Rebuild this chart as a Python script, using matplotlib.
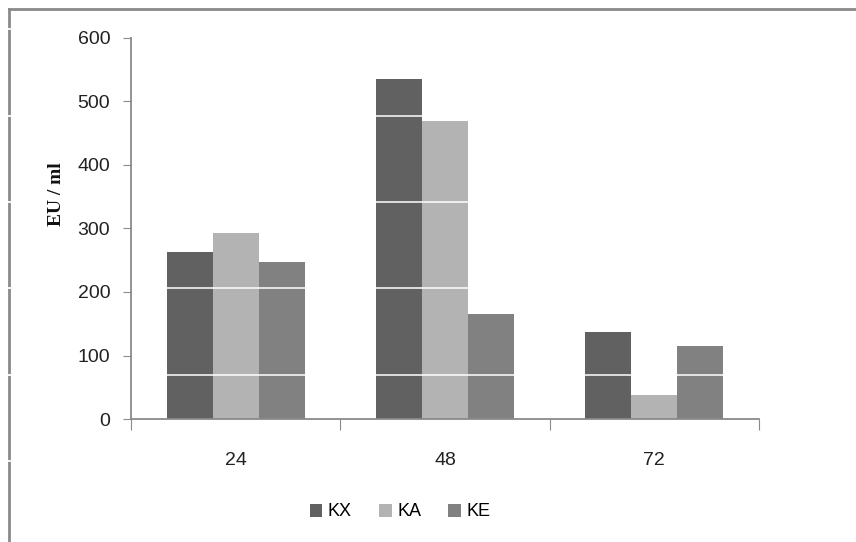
import matplotlib.pyplot as plt
from matplotlib.lines import Line2D
from matplotlib.patches import Patch

hours = ['24', '48', '72']
kx = [263, 536, 137]
ka = [293, 469, 38]
ke = [247, 165, 115]
series = ['KX', 'KA', 'KE']
colors = ['#616161', '#b3b3b3', '#808180']

fig = plt.figure(figsize=(8.56, 5.42), dpi=100)
ax = fig.add_axes([131 / 856, 1 - 419 / 542, 628 / 856, 381 / 542])

w = 0.22
x = range(len(hours))
for vals, off, c in zip([kx, ka, ke], [-w, 0, w], colors):
    ax.bar([i + off for i in x], vals, width=w, color=c, edgecolor='none', zorder=2)

ax.set_xlim(-0.5, 2.5)
ax.set_ylim(0, 600)
ax.set_yticks(range(0, 601, 100))
ax.set_xticks([-0.5, 0.5, 1.5, 2.5])
ax.set_xticklabels([])
ax.set_xticks(list(x), minor=True)
ax.set_xticklabels(hours, minor=True)

for s in ['top', 'right']:
    ax.spines[s].set_visible(False)
for s in ['left', 'bottom']:
    ax.spines[s].set_color('#8a8a8a')
    ax.spines[s].set_linewidth(1.3)

ax.tick_params(axis='y', length=6, color='#8a8a8a', pad=9, labelsize=14,
               labelcolor='#222222')
ax.tick_params(axis='x', which='major', length=8, color='#8a8a8a')
ax.tick_params(axis='x', which='minor', length=0, pad=24, labelsize=14,
               labelcolor='#222222')
for lbl in ax.get_yticklabels() + ax.get_xticklabels(minor=True):
    lbl.set_fontfamily('Liberation Sans')

fig.text(57 / 856, 1 - 194 / 542, 'EU / ml', rotation=90, ha='center', va='center',
         fontsize=14, fontweight='bold', family='Liberation Serif', color='#111111')

handles = [Patch(facecolor=c, edgecolor='none') for c in colors]
fig.legend(handles, series, loc='center', bbox_to_anchor=(400 / 856, 1 - 512 / 542),
           ncol=3, frameon=False, handlelength=0.7, handleheight=0.7,
           handletextpad=0.3, columnspacing=1.5,
           prop={'family': 'Liberation Sans', 'size': 13})

# outer chart frame
fig.add_artist(Line2D([9 / 856, 1.01], [1 - 9 / 542] * 2, color='#8a8a8a', lw=2))
fig.add_artist(Line2D([9 / 856] * 2, [-0.01, 1 - 9 / 542], color='#8a8a8a', lw=2))

# thin light streaks across the frame edge and the bars
for yp in [29, 116, 202, 288, 375, 461]:
    yf = 1 - yp / 542
    fig.add_artist(Line2D([0, 40 / 856], [yf, yf], color='white', lw=1.3, zorder=10))
    if yp < 419:
        fig.add_artist(Line2D([140 / 856, 1], [yf, yf], color='white', alpha=0.85,
                              lw=1.3, zorder=10))

fig.savefig('out.png', dpi=100)
